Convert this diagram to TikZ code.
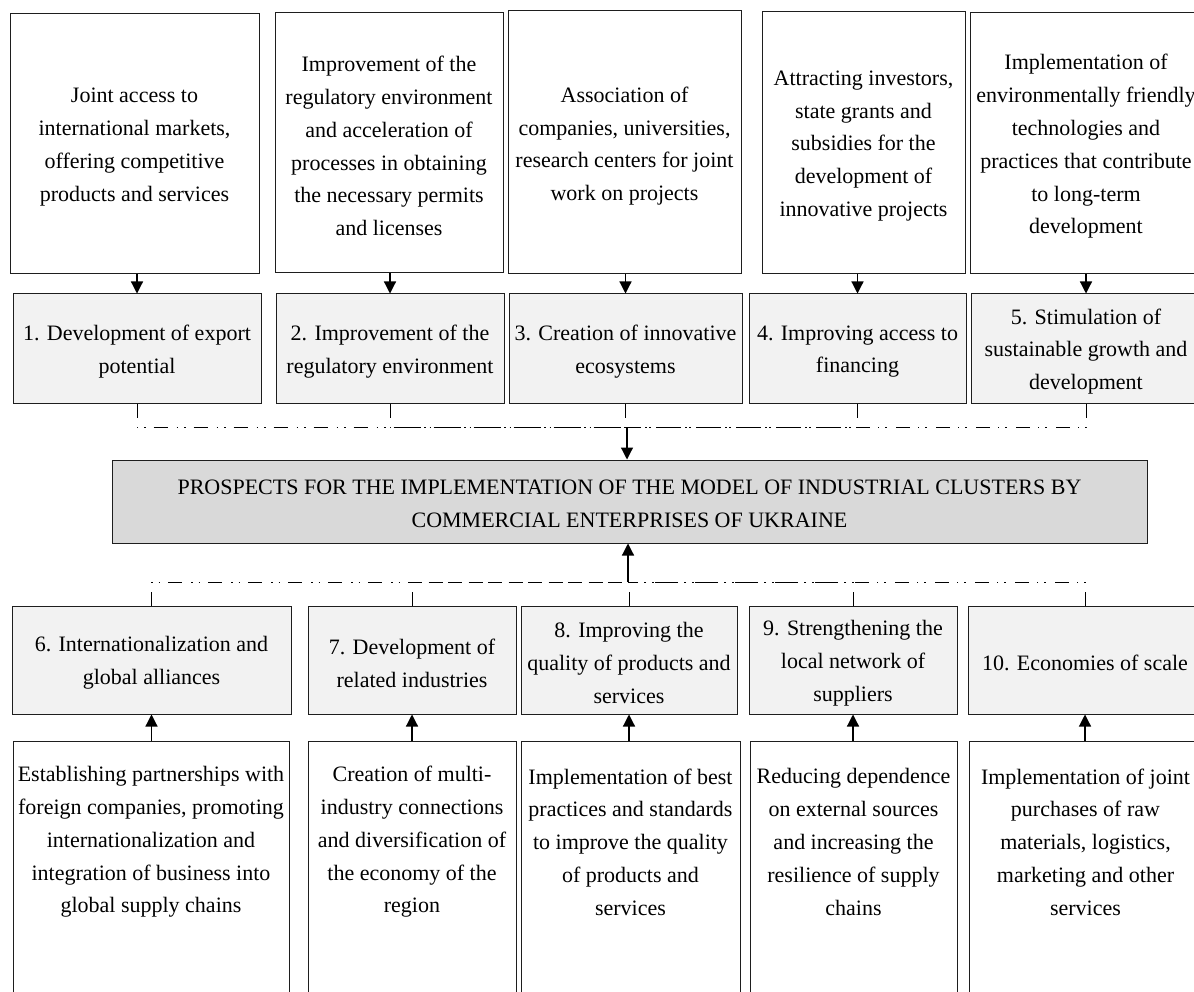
\documentclass[tikz,border=0pt]{standalone}
\usepackage{fontspec}
\setmainfont{Liberation Serif}
\usetikzlibrary{arrows.meta}
\definecolor{panel}{HTML}{F2F2F2}
\definecolor{core}{HTML}{D9D9D9}
\definecolor{edge}{HTML}{1E1E1E}
% \panelbox{name}{style}{x}{y}{width}{height}{text offset}{text}
% draws a framed box and sets its text a little below the box centre
\newcommand\panelbox[8]{%
  \node[#2, minimum width=#5pt, minimum height=#6pt] (#1) at (#3,#4) {};
  \node[label text] (#1-t) at ([yshift=-#7pt]#1.center) {#8};
}
\begin{document}
\begin{tikzpicture}[x=1pt,y=-1pt,
  every node/.style={inner sep=0pt},
  label text/.style={font=\fontsize{22pt}{32.8pt}\selectfont, align=center, text=black},
  srcbox/.style={draw=edge, line width=1pt, fill=white},
  themebox/.style={draw=edge, line width=1pt, fill=panel},
  corebox/.style={draw=edge, line width=1pt, fill=core},
  feed/.style={line width=1.2pt, draw=black, -{Triangle[length=12pt,width=12pt]}},
  link/.style={line width=1pt, draw=black, dash pattern=on 14pt off 9pt on 1.5pt off 6pt on 1.5pt off 8pt},
]
% page frame
\clip (0,0) rectangle (1194,992);
\fill[white] (0,0) rectangle (1194,992);

% ---------- upper sources ----------
\panelbox{a1}{srcbox}{134.5}{144}{249}{260}{3}
  {Joint access to\\international markets,\\offering competitive\\products and services}
\panelbox{a2}{srcbox}{389}{143}{228}{260}{3}
  {Improvement of the\\regulatory environment\\and acceleration of\\processes in obtaining\\the necessary permits\\and licenses}
\panelbox{a3}{srcbox}{624.5}{142.5}{233}{263}{3.5}
  {Association of\\companies, universities,\\research centers for joint\\work on projects}
\panelbox{a4}{srcbox}{863.5}{143}{203}{262}{3}
  {Attracting investors,\\state grants and\\subsidies for the\\development of\\innovative projects}
\panelbox{a5}{srcbox}{1086}{143.5}{232}{261}{3}
  {Implementation of\\environmentally friendly\\technologies and\\practices that contribute\\to long-term\\development}

% ---------- upper themes ----------
\panelbox{g1}{themebox}{137}{348.5}{248}{109}{3}{1. Development of export\\potential}
\panelbox{g2}{themebox}{390}{348.5}{228}{109}{3}{2. Improvement of the\\regulatory environment}
\panelbox{g3}{themebox}{625.5}{348.5}{233}{109}{3}{3. Creation of innovative\\ecosystems}
\panelbox{g4}{themebox}{857.5}{348.5}{217}{109}{3}{4. Improving access to\\financing}
\panelbox{g5}{themebox}{1086}{348.5}{230}{109}{3}{5. Stimulation of\\sustainable growth and\\development}

% ---------- central box ----------
\panelbox{core}{corebox}{629.5}{501.5}{1035}{83}{2.5}
  {PROSPECTS FOR THE IMPLEMENTATION OF THE MODEL OF INDUSTRIAL CLUSTERS BY\\COMMERCIAL ENTERPRISES OF UKRAINE}

% ---------- lower themes ----------
\panelbox{g6}{themebox}{151.5}{660}{279}{108}{3}{6. Internationalization and\\global alliances}
\panelbox{g7}{themebox}{412}{660}{208}{108}{3}{7. Development of\\related industries}
\panelbox{g8}{themebox}{629}{660}{216}{108}{3}{8. Improving the\\quality of products and\\services}
\panelbox{g9}{themebox}{853}{660}{208}{108}{3}{9. Strengthening the\\local network of\\suppliers}
\panelbox{g10}{themebox}{1085}{660}{234}{108}{3}{10. Economies of scale}

% ---------- lower sources (text sits in the upper part of each frame) ----------
\panelbox{b6}{srcbox}{151}{871}{276}{260}{-29}
  {Establishing partnerships with\\foreign companies, promoting\\internationalization and\\integration of business into\\global supply chains}
\panelbox{b7}{srcbox}{412}{871}{208}{260}{-29}
  {Creation of multi-\\industry connections\\and diversification of\\the economy of the\\region}
\panelbox{b8}{srcbox}{630.5}{871}{219}{260}{-29}
  {Implementation of best\\practices and standards\\to improve the quality\\of products and\\services}
\panelbox{b9}{srcbox}{853.5}{871}{207}{260}{-29}
  {Reducing dependence\\on external sources\\and increasing the\\resilience of supply\\chains}
\panelbox{b10}{srcbox}{1085.5}{871}{233}{260}{-29}
  {Implementation of joint\\purchases of raw\\materials, logistics,\\marketing and other\\services}

% ---------- source -> theme arrows ----------
\foreach \s/\t in {a1/g1,a2/g2,a3/g3,a4/g4,a5/g5}
  \draw[feed] (\s.south -| \t.north) -- (\t.north);
\foreach \s/\t in {b6/g6,b7/g7,b8/g8,b9/g9,b10/g10}
  \draw[feed] (\s.north -| \t.south) -- (\t.south);

% ---------- collectors into the central box ----------
\coordinate (tj) at (627,427);
\coordinate (bj) at (628,582);
\foreach \t in {g1,g2,g3,g4,g5}
  \draw[link] (\t.south) |- (tj);
\foreach \t in {g6,g7,g8,g9,g10}
  \draw[link] (\t.north) |- (bj);
\draw[feed] (tj) -- (tj |- core.north);
\draw[feed] (bj) -- (bj |- core.south);
\end{tikzpicture}
\end{document}
